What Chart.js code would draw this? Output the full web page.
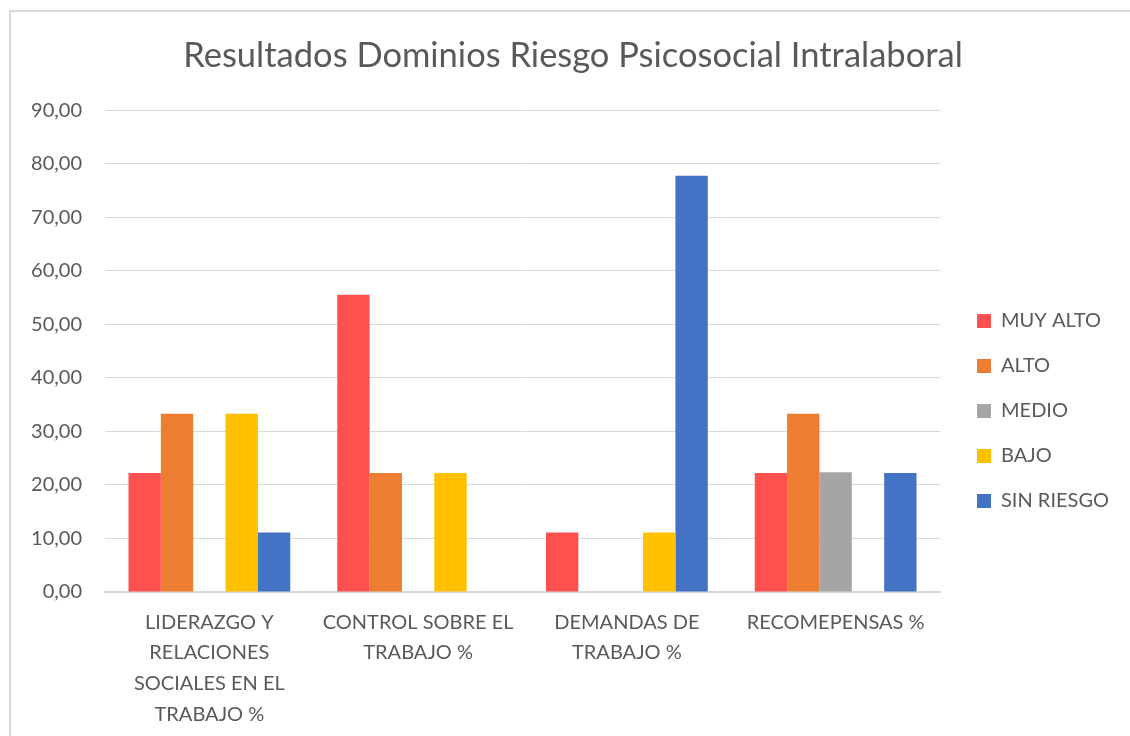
<!DOCTYPE html>
<html>
<head>
<meta charset="utf-8">
<script src="https://cdn.jsdelivr.net/npm/chart.js@4/dist/chart.umd.min.js"></script>
<style>
  html, body { margin: 0; padding: 0; background: #fff; }
  #marco {
    position: absolute; left: 9px; top: 10px; width: 1121px; height: 726px;
    border-left: 2px solid #d9d9d9; border-top: 2px solid #d9d9d9;
  }
  #marco canvas { display: block; }
</style>
</head>
<body>
<div id="marco"><canvas id="grafico" width="1119" height="724"></canvas></div>
<script>
// categorias (eje X)
const categorias = [
  ['LIDERAZGO Y', 'RELACIONES', 'SOCIALES EN EL', 'TRABAJO %'],
  ['CONTROL SOBRE EL', 'TRABAJO %'],
  ['DEMANDAS DE', 'TRABAJO %'],
  ['RECOMEPENSAS %']
];

// series por nivel de riesgo
const muyAlto   = [22.22, 55.56, 11.11, 22.22];
const alto      = [33.33, 22.22, 0, 33.33];
const medio     = [0, 0, 0, 22.4];
const bajo      = [33.33, 22.22, 11.11, 0];
const sinRiesgo = [11.11, 0, 77.78, 22.22];

const nombresSeries = ['MUY ALTO', 'ALTO', 'MEDIO', 'BAJO', 'SIN RIESGO'];
const coloresSeries = ['#ff5050', '#ed7d31', '#a5a5a5', '#ffc000', '#4472c4'];

const ticksY = [0, 10, 20, 30, 40, 50, 60, 70, 80, 90];

const fuente = "Lato, 'Open Sans', sans-serif";
const gris = '#595959';

const valores = [muyAlto, alto, medio, bajo, sinRiesgo];
const datasets = valores.map((v, i) => ({
    label: nombresSeries[i],
    data: v,
    backgroundColor: coloresSeries[i],
    borderWidth: 0,
    categoryPercentage: 0.775,
    barPercentage: 1.0
}));

// acomoda leyenda y titulo como en el original
const ajustes = {
    id: 'ajustes',
    afterLayout(chart) {
        chart.legend.top += 37;
        chart.legend.bottom += 37;
        chart.legend.left += 12;
        chart.legend.right += 12;
        chart.titleBlock.left += 14;
        chart.titleBlock.right += 14;
    }
};

new Chart(document.getElementById('grafico').getContext('2d'), {
    type: 'bar',
    data: { labels: categorias, datasets: datasets },
    plugins: [ajustes],
    options: {
        responsive: false,
        animation: false,
        layout: { padding: { left: 0, right: 23, top: 0, bottom: 0 } },
        plugins: {
            title: {
                display: true,
                text: 'Resultados Dominios Riesgo Psicosocial Intralaboral',
                color: gris,
                font: { family: fuente, size: 34.5, weight: 'normal' },
                padding: { top: 23, bottom: 34 }
            },
            legend: {
                position: 'right',
                labels: {
                    color: gris,
                    font: { family: fuente, size: 20 },
                    boxWidth: 14,
                    boxHeight: 14,
                    padding: 25
                }
            },
            tooltip: { enabled: false }
        },
        scales: {
            x: {
                afterFit: axis => { axis.height = 144; },
                grid: { display: false },
                border: { color: '#d9d9d9', width: 2 },
                ticks: {
                    color: gris,
                    font: { family: fuente, size: 20, lineHeight: 1.53 },
                    maxRotation: 0,
                    autoSkip: false,
                    padding: 7
                }
            },
            y: {
                min: 0,
                max: 90,
                afterBuildTicks: axis => { axis.ticks = ticksY.map(v => ({ value: v })); },
                afterFit: axis => { axis.width = 94; },
                grid: { color: '#d9d9d9', drawTicks: false },
                border: { display: false },
                ticks: {
                    color: gris,
                    font: { family: fuente, size: 20 },
                    padding: 23,
                    callback: v => v.toFixed(2).replace('.', ',')
                }
            }
        }
    }
});
</script>
</body>
</html>
